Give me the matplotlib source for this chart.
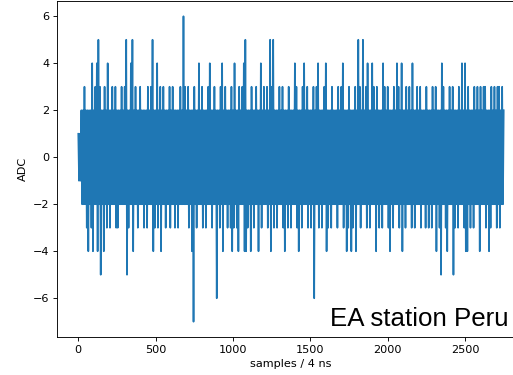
import numpy as np
import matplotlib
matplotlib.use("Agg")
import matplotlib.pyplot as plt

# ADC trace (one value every 5 samples)
sample_step = 5
adc = [
    1, -1, 1, -1, 2, -2, 2, -2, 3, -2, 2, -3, 2, -4, 2, -2, 2, -3, 4, -4, 2, -2, 3, -2, 4,
    -4, 5, -2, 3, -5, 2, -2, 2, -4, 3, -2, 2, -3, 4, -2, 2, -3, 2, -2, 3, -2, 2, -2, 3, -3,
    2, -3, 2, -2, 2, -2, 3, -2, 2, -2, 3, -2, 5, -5, 2, -3, 2, -2, 4, -2, 5, -4, 2, -2, 3,
    -2, 2, -3, 2, -2, 3, -2, 2, -2, 2, -3, 2, -2, 2, -3, 3, -2, 2, -2, 3, -2, 5, -4, 2, -3,
    2, -2, 4, -3, 2, -2, 3, -4, 2, -2, 3, -2, 2, -3, 2, -2, 2, -2, 3, -3, 2, -2, 3, -2, 2,
    -3, 2, -2, 2, -3, 2, -2, 3, -2, 2, -2, 6, -2, 3, -2, 2, -2, 3, -3, 2, -2, 2, -4, 2, -7,
    3, -2, 2, -3, 2, -2, 4, -2, 2, -2, 3, -3, 2, -2, 2, -3, 2, -2, 3, -2, 4, -2, 2, -3, 2,
    -2, 3, -2, 2, -6, 2, -2, 2, -3, 3, -2, 4, -4, 2, -2, 3, -2, 2, -3, 2, -2, 2, -3, 3, -4,
    2, -3, 4, -2, 2, -3, 2, -4, 3, -2, 2, -2, 3, -2, 4, -4, 5, -4, 2, -3, 2, -2, 2, -4, 3,
    -2, 2, -3, 2, -2, 3, -2, 2, -4, 2, -2, 4, -3, 2, -2, 3, -2, 2, -2, 3, -3, 2, -2, 5, -4,
    3, -2, 5, -3, 2, -2, 2, -3, 2, -2, 3, -2, 2, -2, 3, -3, 2, -4, 2, -2, 2, -3, 3, -2, 2,
    -3, 2, -2, 2, -2, 4, -2, 3, -3, 2, -4, 2, -2, 2, -3, 3, -2, 4, -2, 2, -2, 3, -3, 2, -2,
    2, -3, 2, -2, 3, -6, 2, -2, 3, -2, 4, -3, 2, -2, 2, -3, 2, -2, 3, -2, 4, -4, 2, -3, 2,
    -2, 2, -3, 3, -2, 2, -2, 2, -2, 2, -3, 3, -2, 2, -2, 3, -2, 4, -3, 2, -2, 2, -4, 2, -3,
    3, -2, 2, -4, 2, -3, 2, -2, 3, -4, 2, -2, 5, -2, 3, -3, 2, -2, 5, -2, 2, -2, 3, -3, 4,
    -2, 2, -3, 2, -2, 4, -2, 3, -2, 2, -4, 3, -2, 2, -3, 2, -2, 2, -3, 4, -2, 3, -2, 2, -2,
    3, -3, 2, -4, 2, -2, 2, -3, 3, -2, 2, -2, 4, -2, 3, -3, 2, -2, 4, -4, 2, -2, 2, -3, 3,
    -2, 2, -2, 3, -2, 2, -3, 4, -2, 2, -3, 2, -2, 3, -2, 2, -2, 3, -3, 2, -2, 2, -2, 2, -3,
    3, -2, 2, -3, 2, -2, 2, -3, 3, -2, 2, -2, 3, -4, 2, -2, 2, -3, 2, -5, 4, -2, 3, -2, 2,
    -3, 2, -4, 2, -2, 3, -2, 2, -2, 3, -5, 2, -3, 2, -2, 2, -3, 3, -2, 2, -2, 4, -2, 2, -3,
    4, -4, 2, -4, 3, -2, 2, -3, 2, -2, 2, -3, 3, -2, 2, -2, 3, -2, 2, -4, 3, -2, 2, -2, 3,
    -2, 3, -3, 2, -2, 2, -4, 2, -3, 3, -2, 2, -2, 3, -2, 2, -3, 3, -2, 3, -3, 2, -2, 3, -2,
    2,
]
label = "EA station Peru"

samples = np.arange(len(adc)) * sample_step

dpi = 81
fig = plt.figure(figsize=(513 / dpi, 375 / dpi), dpi=dpi)
# axes run past the right edge, as in the cropped original
ax = fig.add_axes([57 / 513, 38 / 375, 468 / 513, 336 / 375])
ax.plot(samples, adc, color="#1f77b4", linewidth=1.5)
ax.set_xlabel("samples / 4 ns")
ax.set_ylabel("ADC")

fig.text(508 / 513, (375 - 326) / 375, label, ha="right", va="baseline",
         fontsize=23, family="Liberation Sans")

fig.savefig("out.png", dpi=dpi)
